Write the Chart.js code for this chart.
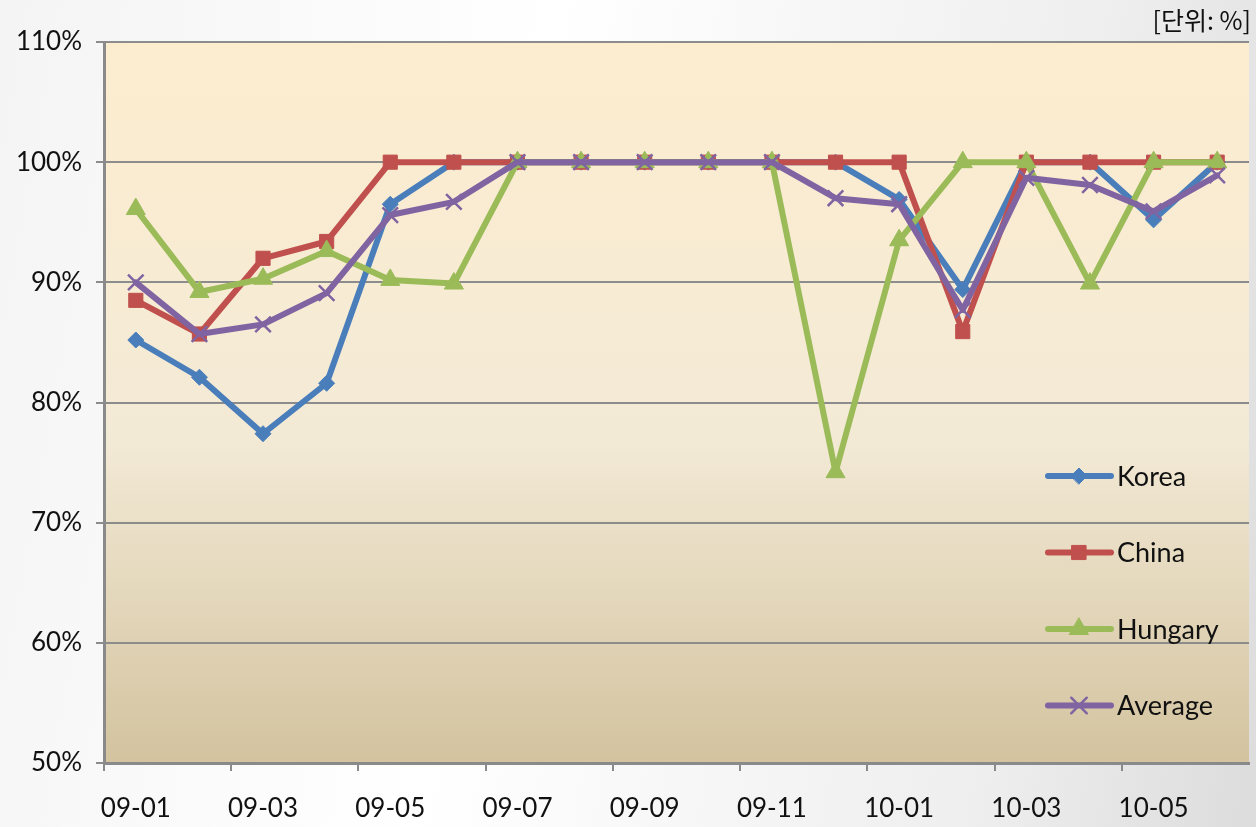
<!DOCTYPE html>
<html>
<head>
<meta charset="utf-8">
<script src="https://cdn.jsdelivr.net/npm/chart.js@4/dist/chart.umd.min.js"></script>
<style>
  html, body { margin: 0; padding: 0; }
  body {
    width: 1256px; height: 827px; overflow: hidden;
    background: linear-gradient(100deg, #f4f4f4 0%, #ffffff 40%, #eeeeee 80%, #dcdcdc 100%);
    position: relative;
  }
  #wrap { position: absolute; left: 0; top: 0; width: 1256px; height: 827px; }
  #unit {
    position: absolute; right: 5px; top: 1px;
    font-family: "Noto Sans CJK KR", "Noto Sans", sans-serif; font-size: 25px; color: #111;
  }
</style>
</head>
<body>
<div id="wrap"><canvas id="chart" width="1256" height="827"></canvas></div>
<div id="unit">[단위: %]</div>
<script>
'use strict';

// categories (months)
const months = ['09-01', '09-02', '09-03', '09-04', '09-05', '09-06', '09-07', '09-08', '09-09',
  '09-10', '09-11', '09-12', '10-01', '10-02', '10-03', '10-04', '10-05', '10-06'];

// series values (%)
const korea   = [85.2, 82.1, 77.4, 81.6, 96.5, 100, 100, 100, 100, 100, 100, 100, 96.9, 89.4, 100, 100, 95.2, 100];
const china   = [88.5, 85.7, 92.0, 93.4, 100, 100, 100, 100, 100, 100, 100, 100, 100, 85.9, 100, 100, 100, 100];
const hungary = [96.1, 89.2, 90.3, 92.6, 90.2, 89.9, 100, 100, 100, 100, 100, 74.2, 93.5, 100, 100, 89.9, 100, 100];
const average = [90.0, 85.7, 86.5, 89.1, 95.6, 96.7, 100, 100, 100, 100, 100, 97.0, 96.5, 87.7, 98.7, 98.1, 95.9, 98.9];

// y ticks
const yMin = 50;
const yMax = 110;
const yStep = 10;

const FONT = 'Lato, "Open Sans", sans-serif';

// plot area gradient
const plotBackground = {
  id: 'plotBackground',
  beforeDraw(chart) {
    const { ctx, chartArea: a } = chart;
    const g = ctx.createLinearGradient(0, a.top, 0, a.bottom);
    g.addColorStop(0, '#fdedcf');
    g.addColorStop(0.55, '#f3ead6');
    g.addColorStop(1, '#d3c39f');
    ctx.save();
    ctx.fillStyle = g;
    ctx.fillRect(a.left, a.top, a.right - a.left, a.bottom - a.top);
    ctx.restore();
  }
};

// legend drawn inside the plot, lower right
const innerLegend = {
  id: 'innerLegend',
  afterDatasetsDraw(chart) {
    const { ctx, chartArea: a } = chart;
    ctx.save();
    chart.data.datasets.forEach((ds, i) => {
      const y = a.top + 434 + i * 76.5;
      const x0 = a.right - 201;
      ctx.strokeStyle = ds.borderColor;
      ctx.lineWidth = 6;
      ctx.lineCap = 'round';
      ctx.beginPath();
      ctx.moveTo(x0, y);
      ctx.lineTo(x0 + 63, y);
      ctx.stroke();
      ctx.fillStyle = ds.backgroundColor;
      ctx.lineWidth = ds.pointBorderWidth || 1;
      Chart.helpers.drawPoint(ctx, {
        pointStyle: ds.pointStyle,
        radius: ds.pointRadius,
        borderWidth: ds.pointBorderWidth || 1,
        rotation: 0
      }, x0 + 31, y);
      ctx.fillStyle = '#111';
      ctx.font = '27px ' + FONT;
      ctx.textBaseline = 'middle';
      ctx.fillText(ds.label, x0 + 69, y + 1);
    });
    ctx.restore();
  }
};

function series(label, data, color, style, radius, order) {
  return {
    label: label,
    data: data,
    borderColor: color,
    backgroundColor: color,
    borderWidth: 6,
    borderCapStyle: 'round',
    borderJoinStyle: 'round',
    pointStyle: style,
    pointRadius: radius,
    pointHoverRadius: radius,
    pointBackgroundColor: color,
    pointBorderColor: color,
    pointBorderWidth: style === 'crossRot' ? 2.5 : 1,
    tension: 0,
    order: order
  };
}

const ctx = document.getElementById('chart').getContext('2d');

new Chart(ctx, {
  type: 'line',
  data: {
    labels: months,
    datasets: [
      series('Korea', korea, '#4a7ebb', 'rectRot', 8, 3),
      series('China', china, '#c0504d', 'rect', 10, 2),
      series('Hungary', hungary, '#9bbb59', 'triangle', 11, 1),
      series('Average', average, '#8064a2', 'crossRot', 11, 0)
    ]
  },
  options: {
    responsive: false,
    animation: false,
    layout: {
      autoPadding: false,
      padding: { top: 42, right: 7, left: 0, bottom: 0 }
    },
    plugins: {
      legend: { display: false },
      tooltip: { enabled: false }
    },
    scales: {
      x: {
        offset: true,
        afterFit(scale) {
          scale.height = 64;
          scale.paddingRight = 0;
          scale.paddingLeft = 0;
        },
        grid: {
          offset: true,
          drawOnChartArea: false,
          drawTicks: true,
          tickLength: 8,
          lineWidth: 2,
          tickColor: (c) => (c.index % 2 === 0 ? '#8a8a8a' : 'rgba(0,0,0,0)')
        },
        border: { color: '#8a8a8a', width: 3 },
        ticks: {
          autoSkip: false,
          maxRotation: 0,
          padding: 22,
          color: '#111',
          font: { family: FONT, size: 26 },
          callback: function (v, i) { return i % 2 === 0 ? this.getLabelForValue(v) : ''; }
        }
      },
      y: {
        min: yMin,
        max: yMax,
        afterFit(scale) { scale.width = 104; },
        grid: {
          color: '#8c8c8c',
          lineWidth: 2,
          drawTicks: true,
          tickLength: 8
        },
        border: { color: '#8a8a8a', width: 3 },
        ticks: {
          stepSize: yStep,
          padding: 14,
          color: '#111',
          font: { family: FONT, size: 26 },
          callback: (v) => v + '%'
        }
      }
    }
  },
  plugins: [plotBackground, innerLegend]
});
</script>
</body>
</html>
